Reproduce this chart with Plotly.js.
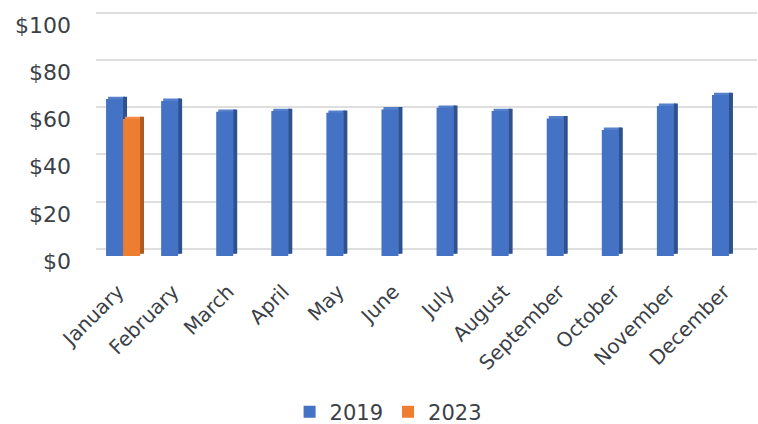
<!DOCTYPE html>
<html>
<head>
<meta charset="utf-8">
<script src="https://cdn.plot.ly/plotly-3.0.1.min.js"></script>
<style>html,body{margin:0;padding:0;background:#fff;}#chart{width:758px;height:424px;}</style>
</head>
<body>
<div id="chart"></div>
<script>
const months = ["January","February","March","April","May","June","July","August","September","October","November","December"];
const values2019 = [66.5, 65.7, 61.1, 61.4, 60.7, 62.1, 62.8, 61.4, 58.3, 53.4, 63.6, 68.2];
const values2023 = [58.0, null, null, null, null, null, null, null, null, null, null, null];
const yTicks = [0, 20, 40, 60, 80, 100];

// styling (category units)
const fw = 0.3085, d = 0.0726, c2 = 0.0363, lift = 1.0;
const blue = '#4472c4', blueSide = '#2f528f', blueCap = '#5580cc';
const orange = '#ed7d31', orangeSide = '#ae5a21', orangeCap = '#f18c46';

function bar(y, color, offset, width, base, name, legend) {
  return {type:'bar', x: months, y: y, base: base, offset: offset, width: width,
    marker:{color: color, line:{width:0}}, name: name, showlegend: legend, hoverinfo:'skip'};
}

const data = [
  bar(values2019, blueCap, -fw + c2, fw, lift, 'cap2019', false),
  bar(values2019, blueSide, 0, d, lift, 'side2019', false),
  bar(values2019, blue, -fw, fw, 0, '2019', true),
  bar(values2023, orangeCap, c2, fw, lift, 'cap2023', false),
  bar(values2023, orangeSide, fw, d, lift, 'side2023', false),
  bar(values2023, orange, 0, fw, 0, '2023', true),
  {type:'scatter', x:[months[0]], y:[null], yaxis:'y2', showlegend:false, hoverinfo:'skip'},
  {type:'scatter', x:[months[0]], y:[null], yaxis:'y3', showlegend:false, hoverinfo:'skip'}
];

const B = 268, T = 8, s = 2.36;
const span = (B - T) / s;
function rng(zeroPx) { const r0 = -(B - zeroPx) / s; return [r0, r0 + span]; }

const textColor = '#3b3f48';
const layout = {
  width: 758, height: 424,
  margin: {l:0, r:0, t:0, b:0, autoexpand:false},
  paper_bgcolor: '#fff', plot_bgcolor: 'rgba(0,0,0,0)',
  font: {family: 'DejaVu Sans', color: textColor},
  barmode: 'overlay',
  hovermode: false,
  showlegend: true,
  legend: {orientation:'h', x:0.512, y:0.028, xanchor:'center', yanchor:'middle',
    font:{size:21, color:textColor}, traceorder:'normal', itemwidth:30},
  xaxis: {type:'category', domain:[95.5/758, 756.5/758], range:[-0.5, 11.5],
    tickangle:-45, tickfont:{size:20, color:textColor}, showgrid:false, zeroline:false,
    showline:false, ticks:'outside', ticklen:3, tickcolor:'rgba(0,0,0,0)', automargin:false,
    ticklabelshift:-5},
  yaxis: {domain:[1 - B/424, 1 - T/424], range: rng(256), showgrid:false, zeroline:false,
    showticklabels:false, showline:false, fixedrange:true},
  yaxis2: {overlaying:'y', range: rng(248.7), tickvals: yTicks, showticklabels:false,
    showgrid:true, gridcolor:'#dedede', gridwidth:2, zeroline:false, showline:false},
  yaxis3: {overlaying:'y', range: rng(261), tickvals: yTicks, ticktext: yTicks.map(v => '$' + v),
    showgrid:false, zeroline:false, showline:false, anchor:'free', position: 71/758, side:'left',
    tickfont:{size:22, color:textColor}, ticks:'', automargin:false}
};

Plotly.newPlot('chart', data, layout, {staticPlot:true, displayModeBar:false});
</script>
</body>
</html>
